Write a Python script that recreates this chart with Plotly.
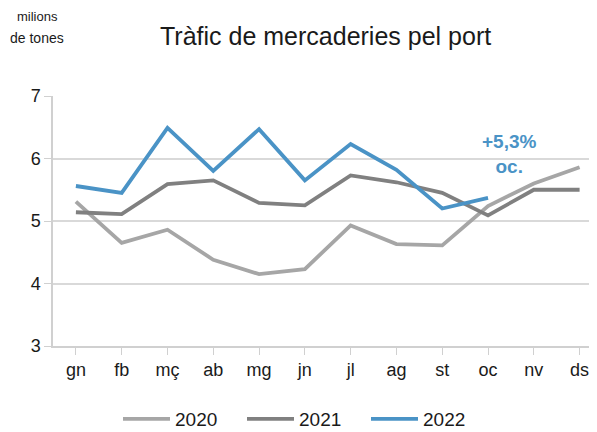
import plotly.graph_objects as go

months = ["gn", "fb", "mç", "ab", "mg", "jn", "jl", "ag", "st", "oc", "nv", "ds"]
y2020 = [5.31, 4.65, 4.86, 4.38, 4.15, 4.23, 4.93, 4.63, 4.61, 5.24, 5.60, 5.86]
y2021 = [5.14, 5.11, 5.59, 5.65, 5.29, 5.25, 5.73, 5.62, 5.45, 5.09, 5.50, 5.50]
y2022 = [5.56, 5.45, 6.49, 5.80, 6.47, 5.65, 6.23, 5.82, 5.20, 5.37]
series_names = ["2020", "2021", "2022"]
colors = ["#A6A6A6", "#808080", "#4A93C6"]

fig = go.Figure()
for name, vals, col in zip(series_names, [y2020, y2021, y2022], colors):
    fig.add_trace(go.Scatter(
        x=list(range(len(vals))), y=vals, mode="lines", name=name,
        line=dict(color=col, width=3.8), cliponaxis=False,
    ))

font = "Liberation Sans, Arial, sans-serif"
OFF = 8  # page body margin offset
L, R, T, B = 53, 597, 96, 346  # plot area in screen pixels
W, H = R - L, B - T


def py(p):
    return (B - p) / H


def px(p):
    return (p - L) / W


fig.update_layout(
    width=597, height=432,
    margin=dict(l=L - OFF, r=597 - (R - OFF), t=T - OFF, b=432 - (B - OFF), autoexpand=False),
    paper_bgcolor="white", plot_bgcolor="white",
    font=dict(family=font, color="#1a1a1a"),
    showlegend=True,
    legend=dict(orientation="h", xref="container", yref="container",
                x=(118 - OFF) / 597, xanchor="left", y=1 - (419 - OFF) / 432, yanchor="middle",
                font=dict(size=19, family=font, color="#1a1a1a"),
                itemwidth=47, entrywidth=62, tracegroupgap=0),
    xaxis=dict(
        range=[-0.5, 11.38], automargin=False,
        tickmode="array", tickvals=list(range(12)), ticktext=months,
        tickson="boundaries", ticks="outside", ticklen=7, tickcolor="#D0D0D0",
        showline=True, linecolor="#D0D0D0", linewidth=1.5,
        showgrid=False, tickfont=dict(size=18, family=font, color="#1a1a1a"), zeroline=False,
    ),
    yaxis=dict(
        range=[3, 7], dtick=1, automargin=False,
        ticks="outside", ticklen=7, tickcolor="#D0D0D0",
        showline=True, linecolor="#D0D0D0", linewidth=1.5,
        showgrid=True, gridcolor="#D9D9D9", gridwidth=1.5,
        tickfont=dict(size=18, family=font, color="#1a1a1a"), zeroline=False,
    ),
    annotations=[
        dict(text="Tràfic de mercaderies pel port", xref="paper", yref="paper",
             x=px(325), y=py(36), xanchor="center", yanchor="middle",
             showarrow=False, font=dict(size=25, family=font, color="#1a1a1a")),
        dict(text="milions", xref="paper", yref="paper",
             x=px(37), y=py(17), xanchor="center", yanchor="middle",
             showarrow=False, font=dict(size=13, family=font, color="#1a1a1a")),
        dict(text="de tones", xref="paper", yref="paper",
             x=px(37), y=py(38), xanchor="center", yanchor="middle",
             showarrow=False, font=dict(size=14, family=font, color="#1a1a1a")),
        dict(text="<b>+5,3%<br>oc.</b>", xref="x", yref="y",
             x=9.46, y=6.08, xanchor="center", yanchor="middle",
             showarrow=False, font=dict(size=19, family=font, color="#4A93C6")),
    ],
)

fig.write_html("out.html")
